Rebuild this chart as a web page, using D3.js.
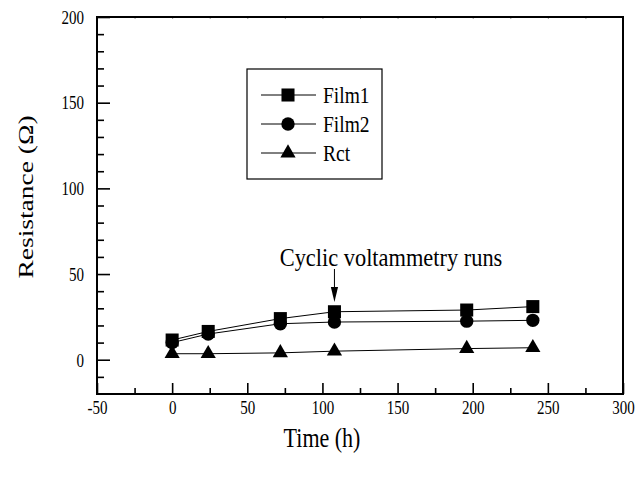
<!DOCTYPE html>
<html>
<head>
<meta charset="utf-8">
<script src="https://cdn.jsdelivr.net/npm/d3@7"></script>
<style>
  html, body { margin: 0; padding: 0; background: #fff; }
  svg { display: block; }
  svg text { font-family: "Liberation Serif", "Times New Roman", serif; fill: #000; }
</style>
</head>
<body>
<svg id="chart" width="636" height="482"></svg>
<script>
// Measurement times (h)
const times = [0, 24, 72, 108, 196, 240];
// Resistance values (Ω)
const film1 = [11.5, 16.5, 24, 28, 29, 31];
const film2 = [10, 15, 21, 22, 22.5, 23];
const rct = [3.5, 3.5, 4, 5, 6.5, 7];

const seriesNames = ["Film1", "Film2", "Rct"];
const xTicks = [-50, 0, 50, 100, 150, 200, 250, 300];
const yTicks = [0, 50, 100, 150, 200];
const annotationTime = 108;
const annotationText = "Cyclic voltammetry runs";

const svg = d3.select("#chart");
const plotLeft = 97, plotRight = 623, plotTop = 17, plotBottom = 394;
const STRETCH = 1.25;   // glyphs are drawn slightly taller than wide

const x = d3.scaleLinear().domain([-50, 300]).range([plotLeft, plotRight]);
const y = d3.scaleLinear().domain([-20, 200]).range([plotBottom, plotTop]);

const symbols = [d3.symbolSquare, d3.symbolCircle, d3.symbolTriangle];
const symbolSizes = [170, 140, 100];
const fmt = d => String(d);  // plain hyphen for negatives

// Minor ticks
const xMinor = d3.range(-25, 300, 50);
const yMinor = d3.range(-10, 200, 10).filter(v => v % 50 !== 0);

const gx = svg.append("g").attr("transform", `translate(0,${plotBottom})`);
gx.call(d3.axisBottom(x).tickValues(xTicks).tickSizeInner(-11).tickSizeOuter(0).tickFormat(fmt));
const gxm = svg.append("g").attr("transform", `translate(0,${plotBottom})`);
gxm.call(d3.axisBottom(x).tickValues(xMinor).tickSizeInner(-6).tickSizeOuter(0).tickFormat(""));

const gy = svg.append("g").attr("transform", `translate(${plotLeft},0)`);
gy.call(d3.axisLeft(y).tickValues(yTicks).tickSizeInner(-13).tickSizeOuter(0).tickFormat(fmt));
const gym = svg.append("g").attr("transform", `translate(${plotLeft},0)`);
gym.call(d3.axisLeft(y).tickValues(yMinor).tickSizeInner(-7).tickSizeOuter(0).tickFormat(""));

// Faint marks along the top edge
const gt = svg.append("g").attr("transform", `translate(0,${plotTop})`);
gt.call(d3.axisTop(x).tickValues(d3.range(-25, 300, 25)).tickSizeInner(-2).tickSizeOuter(0).tickFormat(""));
gt.selectAll(".tick line").attr("stroke", "#999");

[gx, gxm, gy, gym, gt].forEach(g => g.select(".domain").remove());
[gx, gy, gxm, gym, gt].forEach(g => g.attr("font-family", null));
[gx, gxm, gy, gym].forEach(g => g.selectAll(".tick line").attr("stroke", "#000").attr("stroke-width", 1.6));

gx.selectAll(".tick text")
  .attr("font-size", 15).attr("y", null).attr("dy", null)
  .attr("transform", `translate(0,20) scale(1,${STRETCH})`);
gy.selectAll(".tick text")
  .attr("font-size", 15).attr("x", null).attr("dy", null)
  .attr("transform", `translate(-13,6.3) scale(1,${STRETCH})`);

// Plot frame
svg.append("rect")
  .attr("x", plotLeft).attr("y", plotTop)
  .attr("width", plotRight - plotLeft).attr("height", plotBottom - plotTop)
  .attr("fill", "none").attr("stroke", "#000").attr("stroke-width", 2);

// Series
const allSeries = [film1, film2, rct];
const line = d3.line().x(d => x(d[0])).y(d => y(d[1]));
allSeries.forEach((vals, i) => {
  const pts = times.map((t, j) => [t, vals[j]]);
  svg.append("path").datum(pts)
    .attr("d", line).attr("fill", "none").attr("stroke", "#000").attr("stroke-width", 1);
  svg.append("g").selectAll("path").data(pts).join("path")
    .attr("transform", d => `translate(${x(d[0])},${y(d[1])})`)
    .attr("d", d3.symbol().type(symbols[i]).size(symbolSizes[i]))
    .attr("fill", "#000");
});

// Annotation with arrow
const ax = x(annotationTime);
svg.append("text")
  .attr("transform", `translate(391,266) scale(1,1.12)`)
  .attr("text-anchor", "middle").attr("font-size", 22.4)
  .text(annotationText);
svg.append("line").attr("x1", ax).attr("x2", ax).attr("y1", 269).attr("y2", 290)
  .attr("stroke", "#000").attr("stroke-width", 1);
svg.append("path")
  .attr("d", `M${ax - 3.6},${287} L${ax + 3.6},${287} L${ax},${302} Z`)
  .attr("fill", "#000");

// Legend
const legend = svg.append("g");
legend.append("rect").attr("x", 247).attr("y", 69).attr("width", 135).attr("height", 110)
  .attr("fill", "#fff").attr("stroke", "#000").attr("stroke-width", 1.2);
const rowsY = [95, 124, 153];
seriesNames.forEach((name, i) => {
  const ry = rowsY[i];
  legend.append("line").attr("x1", 261).attr("x2", 316).attr("y1", ry).attr("y2", ry)
    .attr("stroke", "#000").attr("stroke-width", 1);
  legend.append("path").attr("transform", `translate(288,${ry})`)
    .attr("d", d3.symbol().type(symbols[i]).size(symbolSizes[i])).attr("fill", "#000");
  legend.append("text")
    .attr("transform", `translate(323,${ry + 7.5}) scale(1,1.15)`)
    .attr("font-size", 19.5).text(name);
});

// Axis titles
svg.append("text")
  .attr("transform", `translate(322,447) scale(1,${STRETCH})`)
  .attr("text-anchor", "middle").attr("font-size", 22).text("Time (h)");
svg.append("text")
  .attr("transform", `translate(33,197) rotate(-90) scale(${STRETCH},1)`)
  .attr("text-anchor", "middle").attr("font-size", 22).text("Resistance (Ω)");
</script>
</body>
</html>
